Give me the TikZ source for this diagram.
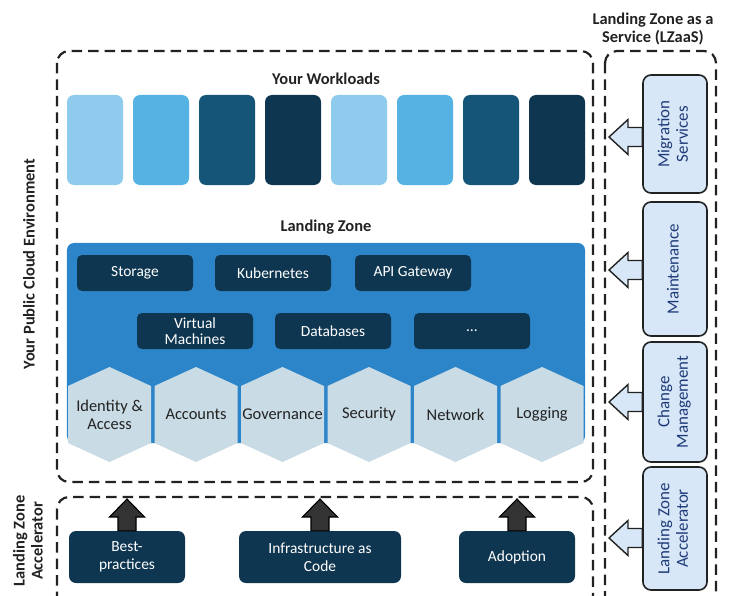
\documentclass[tikz,border=0pt]{standalone}
\usepackage{fontspec}
\setmainfont{Carlito}
\usepackage{graphicx}
\usetikzlibrary{calc}
\definecolor{wlA}{HTML}{8FCBEC}
\definecolor{wlB}{HTML}{55B2E3}
\definecolor{wlC}{HTML}{155577}
\definecolor{wlD}{HTML}{0F3650}
\definecolor{panelBlue}{HTML}{2D85C9}
\definecolor{hexFill}{HTML}{C9DBE5}
\definecolor{sideFill}{HTML}{D7E7F7}
\definecolor{sideText}{HTML}{1E3A78}
\definecolor{edge}{HTML}{222222}
\definecolor{arrowDark}{HTML}{333333}
\newcommand{\sidetext}[1]{\rotatebox{90}{\begin{tabular}{@{}c@{}}#1\end{tabular}}}
\tikzstyle{zone} = [draw=edge, line width=2.2bp, dash pattern=on 10.5bp off 6bp, rounded corners=12bp]
\tikzstyle{title} = [font=\bfseries\fontsize{16.5}{18}\selectfont, text=edge, align=center, inner sep=0pt]
\tikzstyle{workload} = [rectangle, rounded corners=7bp, minimum width=56bp, minimum height=90bp, inner sep=0pt]
\tikzstyle{panel} = [rectangle, rounded corners=7bp, minimum width=518bp, minimum height=200bp, fill=panelBlue]
\tikzstyle{service} = [rectangle, rounded corners=5bp, minimum width=116bp, minimum height=36bp, inner sep=0pt, fill=wlD, text=white, align=center, font=\fontsize{15.5}{16}\selectfont]
\tikzstyle{hexlabel} = [inner sep=0pt, align=center, text=edge, font=\fontsize{16.5}{18}\selectfont]
\tikzstyle{sidebox} = [rectangle, rounded corners=8bp, minimum width=64bp, inner sep=0pt, draw=edge, line width=1.6bp, fill=sideFill, text=sideText, font=\fontsize{17}{18.5}\selectfont]
\tikzstyle{accel} = [rectangle, rounded corners=7bp, minimum width=116bp, minimum height=52bp, inner sep=0pt, fill=wlD, text=white, align=center, font=\fontsize{15.5}{18}\selectfont]
\tikzstyle{uparrow} = [draw=black, fill=arrowDark, line width=1.1bp, line join=miter, to path={let \p1=(\tikztostart), \p2=(\tikztotarget) in (\x1-9bp,\y1) -- (\x1-9bp,\y2-18bp) -- (\x1-17.5bp,\y2-18bp) -- (\x1,\y2) -- (\x1+17.5bp,\y2-18bp) -- (\x1+9bp,\y2-18bp) -- (\x1+9bp,\y1) -- cycle}]
\tikzstyle{leftarrow} = [draw=edge, fill=sideFill, line width=1.4bp, line join=miter, to path={let \p1=(\tikztostart), \p2=(\tikztotarget) in (\x1,\y2+9.5bp) -- (\x2+19bp,\y2+9.5bp) -- (\x2+19bp,\y2+17.5bp) -- (\x2,\y2) -- (\x2+19bp,\y2-17.5bp) -- (\x2+19bp,\y2-9.5bp) -- (\x1,\y2-9.5bp) -- cycle}]

\begin{document}
\begin{tikzpicture}[x=1bp, y=-1bp]
  \useasboundingbox (0,0) rectangle (730,596);
  % dashed zones
  \draw[zone] (57,51) rectangle (593,482);
  \draw[zone] (57,497) rectangle (593,640);
  \draw[zone] (605,51) rectangle (716,640);

  \node[title] (wltitle) at (326,79) {Your Workloads};
  \node[title] (lztitle) at (326,227) {Landing Zone};
  \node[title] (lzaas) at (653,29) {Landing Zone as a\\Service (LZaaS)};
  \node[title, rotate=90] (envlabel) at (29,264) {Your Public Cloud Environment};
  \node[title, rotate=90] (acclabel) at (28,541) {Landing Zone\\Accelerator};

  % workloads
  \foreach \i/\c in {1/wlA,2/wlB,3/wlC,4/wlD,5/wlA,6/wlB,7/wlC,8/wlD}
    \node[workload, fill=\c] (wl\i) at (29+66*\i,140) {};

  % landing zone
  \node[panel] (lzpanel) at (326,343) {};
  \node[service] (storage) at (135,273) {Storage};
  \node[service] (kube) at (273,273) {Kubernetes};
  \node[service] (apigw) at (413,273) {API Gateway};
  \node[service] (vms) at (195,331) {Virtual\\Machines};
  \node[service] (dbs) at (333,331) {Databases};
  \node[service] (more) at (472,331) {…};

  \foreach \i/\nm/\txt in {0/iam/{Identity \&\\Access},1/accounts/Accounts,2/gov/Governance,3/sec/Security,4/net/Network,5/logs/Logging} {
    \fill[hexFill] (68+86.5*\i,386) -- ++(41.5,-19) -- ++(41.5,19) -- ++(0,57) -- ++(-41.5,19) -- ++(-41.5,-19) -- cycle;
    \node[hexlabel] (\nm) at (109.5+86.5*\i,414.5) {\txt};
  }

  % accelerator
  \node[accel] (best) at (127,557) {Best-\\practices};
  \node[accel, minimum width=162bp] (iac) at (320,557) {Infrastructure as\\Code};
  \node[accel] (adopt) at (517,557) {Adoption};
  \coordinate (bestTip) at (127,499);
  \coordinate (iacTip) at (320,499);
  \coordinate (adoptTip) at (517,499);
  \draw[uparrow] (best.north) to (bestTip);
  \draw[uparrow] (iac.north) to (iacTip);
  \draw[uparrow] (adopt.north) to (adoptTip);

  % LZaaS
  \node[sidebox, minimum height=118bp] (mig) at (675,134) {\sidetext{Migration\\Services}};
  \node[sidebox, minimum height=134bp] (maint) at (675,269) {\sidetext{Maintenance}};
  \node[sidebox, minimum height=120bp] (change) at (675,402) {\sidetext{Change\\Management}};
  \node[sidebox, minimum height=123bp] (lza) at (675,528.5) {\sidetext{Landing Zone\\Accelerator}};
  \coordinate (migTip) at (609,137);
  \coordinate (maintTip) at (609,270);
  \coordinate (changeTip) at (609,402);
  \coordinate (lzaTip) at (609,538);
  \draw[leftarrow] (mig.west) to (migTip);
  \draw[leftarrow] (maint.west) to (maintTip);
  \draw[leftarrow] (change.west) to (changeTip);
  \draw[leftarrow] (lza.west) to (lzaTip);
\end{tikzpicture}
\end{document}
